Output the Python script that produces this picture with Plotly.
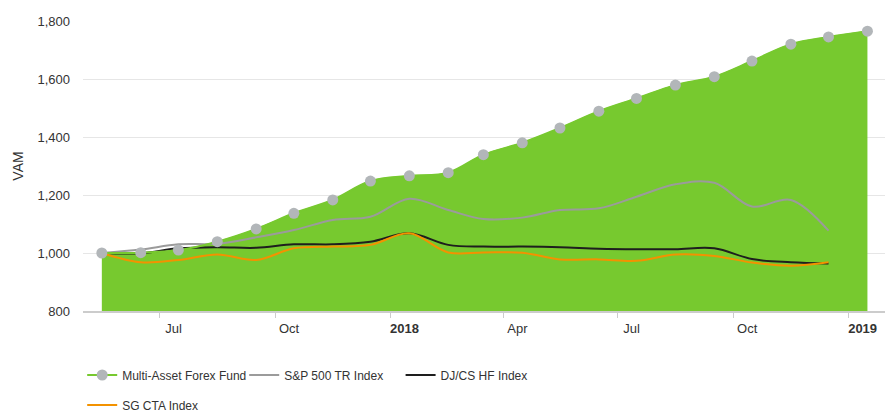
import plotly.graph_objects as go

# ---- data ----
fund_dates = ["2017-05-16", "2017-06-16", "2017-07-16", "2017-08-16", "2017-09-16", "2017-10-16",
              "2017-11-16", "2017-12-16", "2018-01-16", "2018-02-16", "2018-03-16", "2018-04-16",
              "2018-05-16", "2018-06-16", "2018-07-16", "2018-08-16", "2018-09-16", "2018-10-16",
              "2018-11-16", "2018-12-16", "2019-01-16"]
fund_values = [1000, 1001, 1010, 1039, 1083, 1137, 1183, 1248, 1266, 1277, 1339, 1380,
               1431, 1489, 1533, 1579, 1608, 1662, 1720, 1745, 1765]

index_dates = fund_dates[:-1]
sp500_values = [1000, 1012, 1030, 1032, 1054, 1079, 1114, 1125, 1187, 1148, 1117, 1122,
                1148, 1154, 1194, 1237, 1242, 1160, 1183, 1077]
djcs_values = [1000, 999, 1016, 1020, 1018, 1030, 1030, 1039, 1068, 1028, 1022, 1022,
               1020, 1015, 1013, 1013, 1016, 979, 968, 964]
sgcta_values = [1000, 968, 976, 995, 976, 1016, 1022, 1028, 1068, 1002, 1002, 1001,
                978, 978, 973, 995, 990, 967, 956, 968]

tick_vals = ["2017-07-01", "2017-10-01", "2018-01-01", "2018-04-01", "2018-07-01", "2018-10-01", "2019-01-01"]
tick_text = ["Jul", "Oct", "<b>2018</b>", "Apr", "Jul", "Oct", "<b>2019</b>"]

GREEN = "#77C92F"
FONT = "Liberation Sans"

fig = go.Figure()

# green area (no legend)
fig.add_trace(go.Scatter(
    x=fund_dates, y=fund_values, mode="lines", fill="tozeroy",
    line=dict(color=GREEN, width=1, shape="spline", smoothing=1),
    fillcolor=GREEN, showlegend=False, hoverinfo="skip"))

fig.add_trace(go.Scatter(
    x=index_dates, y=sp500_values, mode="lines", name="S&P 500 TR Index",
    line=dict(color="#9B9B9B", width=2, shape="spline", smoothing=1), legend="legend2"))
fig.add_trace(go.Scatter(
    x=index_dates, y=djcs_values, mode="lines", name="DJ/CS HF Index",
    line=dict(color="#1E1E1E", width=2, shape="spline", smoothing=1), legend="legend3"))
fig.add_trace(go.Scatter(
    x=index_dates, y=sgcta_values, mode="lines", name="SG CTA Index",
    line=dict(color="#F39200", width=2, shape="spline", smoothing=1), legend="legend4"))

# fund line + markers on top
fig.add_trace(go.Scatter(
    x=fund_dates, y=fund_values, mode="lines+markers", name="Multi-Asset Forex Fund",
    line=dict(color=GREEN, width=2, shape="spline", smoothing=1),
    marker=dict(color="#B2B6B9", size=11), legend="legend"))

leg_common = dict(orientation="h", font=dict(family=FONT, size=12, color="#333333"),
                  bgcolor="rgba(0,0,0,0)", xanchor="left", yanchor="middle",
                  yref="container", itemwidth=30)

fig.update_layout(
    width=885, height=412,
    margin=dict(l=83, r=0, t=21, b=101),
    plot_bgcolor="white", paper_bgcolor="white",
    font=dict(family=FONT, size=13, color="#333333"),
    legend=dict(x=-0.001, y=1 - 375 / 412, **leg_common),
    legend2=dict(x=0.201, y=1 - 375 / 412, **leg_common),
    legend3=dict(x=0.396, y=1 - 375 / 412, **leg_common),
    legend4=dict(x=-0.001, y=1 - 405 / 412, **leg_common),
    xaxis=dict(
        type="date", range=["2017-05-01", "2019-01-30"],
        tickvals=tick_vals, ticktext=tick_text,
        showgrid=False, showline=True, linecolor="#CCCCCC", linewidth=1.5,
        ticks="outside", ticklen=5, tickcolor="#CCCCCC", tickwidth=1,
        ticklabelshift=14, tickfont=dict(size=13, color="#333333"), zeroline=False),
    yaxis=dict(
        range=[800, 1800], dtick=200, tickformat=",",
        showgrid=True, gridcolor="#E6E6E6", gridwidth=1, zeroline=False, showline=False,
        ticklabelstandoff=12, tickfont=dict(size=13, color="#333333"),
        title=dict(text="VAM", font=dict(size=14, color="#333333"), standoff=10)),
)

fig.write_html("out.html", config={"displayModeBar": False},
               post_script="document.body.style.margin='0';document.body.style.overflow='hidden';")
